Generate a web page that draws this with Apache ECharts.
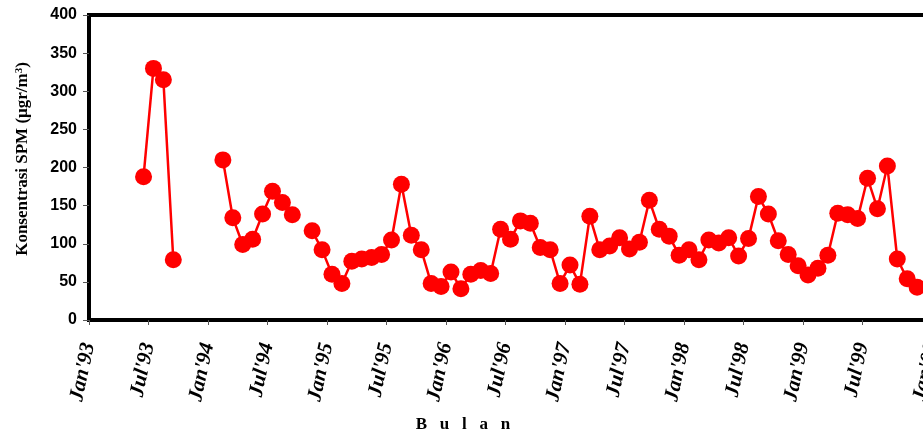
<!DOCTYPE html>
<html>
<head>
<meta charset="utf-8">
<script src="https://cdn.jsdelivr.net/npm/echarts@6/dist/echarts.min.js"></script>
<style>html,body{margin:0;padding:0;background:#fff}#c{width:923px;height:434px}</style>
</head>
<body>
<div id="c"></div>
<script>
// First month of the series (Jun 1993), one value per month, null = no measurement
const startYear = 1993;
const startMonth = 6;
const spmValues = [
  188, 330, 315, 79, null, null, null, null,
  210, 134, 99, 106, 139, 169, 154, 138, null, 117, 92,
  60, 48, 77, 80, 82, 86, 105, 178, 111, 92, 48, 44,
  63, 41, 60, 65, 61, 119, 106, 130, 127, 95, 92, 48,
  72, 47, 136, 92, 97, 108, 93, 102, 157, 119, 110, 85,
  92, 79, 105, 101, 108, 84, 107, 162, 139, 104, 86, 71,
  59, 68, 85, 140, 138, 133, 186, 146, 202, 80, 54, 43
];
const tickLabels = ["Jan'93","Jul'93","Jan'94","Jul'94","Jan'95","Jul'95","Jan'96","Jul'96",
  "Jan'97","Jul'97","Jan'98","Jul'98","Jan'99","Jul'99","Jan'00","Jul'00"];
const yTicks = [0, 50, 100, 150, 200, 250, 300, 350, 400];

const baseIndex = (startYear - 1993) * 12 + (startMonth - 1);
const seriesData = spmValues.map((v, i) => [baseIndex + i + 0.5, v]);

const chart = echarts.init(document.getElementById('c'), null, {renderer: 'canvas'});
chart.setOption({
  animation: false,
  backgroundColor: '#fff',
  grid: {left: 89, top: 15, bottom: 114, right: -9, containLabel: false, outerBoundsMode: 'none',
    show: true, borderColor: '#000', borderWidth: 4, backgroundColor: 'transparent'},
  xAxis: {
    type: 'value', min: 0, max: 85, interval: 6,
    axisLine: {show: false},
    axisTick: {show: true, inside: false, length: 5, lineStyle: {color: '#555', width: 1}},
    splitLine: {show: false},
    axisLabel: {
      rotate: 78, margin: 23, color: '#000', showMaxLabel: true,
      fontFamily: 'Liberation Serif', fontWeight: 'bold', fontStyle: 'italic', fontSize: 21,
      formatter: v => tickLabels[Math.round(v / 6)] || ''
    }
  },
  yAxis: {
    type: 'value', min: yTicks[0], max: yTicks[yTicks.length - 1], interval: 50,
    axisLine: {show: false},
    axisTick: {show: true, inside: false, length: 6, lineStyle: {color: '#555', width: 1}},
    splitLine: {show: false},
    axisLabel: {margin: 12, color: '#000', fontFamily: 'Liberation Sans', fontWeight: 'bold', fontSize: 16}
  },
  graphic: [{
    type: 'text', x: 463, y: 425,
    style: {text: 'B   u   l   a   n', fill: '#000', font: 'bold 17px "Liberation Serif"', textAlign: 'center', textVerticalAlign: 'middle'}
  }, {
    type: 'text', x: 23, y: 159, rotation: Math.PI / 2,
    style: {
      text: 'Konsentrasi SPM (μgr/m{sup|3})', fill: '#000',
      font: 'bold 17px "Liberation Serif"', textAlign: 'center', textVerticalAlign: 'middle',
      rich: {sup: {fill: '#000', font: 'bold 11px "Liberation Serif"', verticalAlign: 'top', padding: [0, 0, 8, 0]}}
    }
  }],
  series: [{
    type: 'line', data: seriesData, connectNulls: false,
    symbol: 'circle', symbolSize: 17,
    lineStyle: {color: '#ff0000', width: 2.5},
    itemStyle: {color: '#ff0000'}
  }]
});
</script>
</body>
</html>
